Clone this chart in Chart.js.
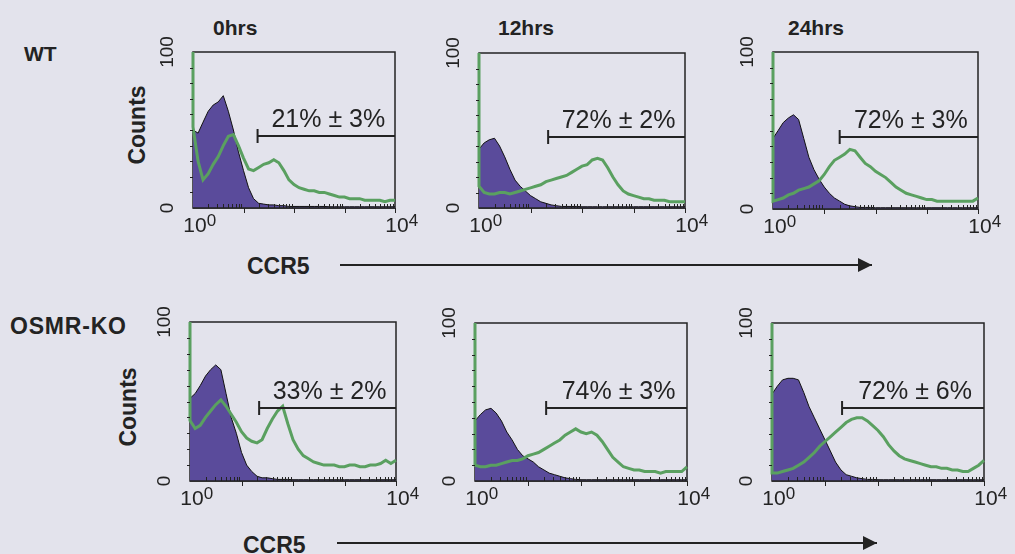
<!DOCTYPE html>
<html>
<head>
<meta charset="utf-8">
<script src="https://cdn.jsdelivr.net/npm/chart.js@4.4.1/dist/chart.umd.min.js"></script>
<style>
html, body { margin: 0; background: #e3e3ec; }
body { width: 1015px; height: 554px; overflow: hidden; position: relative;
  font-family: "Liberation Sans", Arial, sans-serif; color: #232323; }
.t { position: absolute; font-weight: bold; line-height: 1; white-space: nowrap; }
.rot { width: 100px; text-align: center; transform: rotate(-90deg); }
canvas { position: absolute; }
.arrow { position: absolute; height: 2px; background: #232323; }
.arrow:after { content: ''; position: absolute; right: 0; top: -6px;
  border-left: 14px solid #232323; border-top: 7px solid transparent; border-bottom: 7px solid transparent; }
</style>
</head>
<body>
<div class="t" style="left:24px;top:43px;font-size:21px">WT</div>
<div class="t" style="left:10px;top:315px;font-size:23px;letter-spacing:0.8px">OSMR-KO</div>
<div class="t" style="left:213px;top:17px;font-size:21px">0hrs</div>
<div class="t" style="left:498px;top:17px;font-size:21px">12hrs</div>
<div class="t" style="left:788px;top:17px;font-size:21px">24hrs</div>
<div class="t rot" style="left:87px;top:113px;font-size:23px;line-height:24px">Counts</div>
<div class="t rot" style="left:78px;top:395px;font-size:23px;line-height:24px">Counts</div>
<div class="t" style="left:247px;top:255px;font-size:23px">CCR5</div>
<div class="t" style="left:243px;top:534px;font-size:23px">CCR5</div>
<div class="arrow" style="left:340px;top:264px;width:532px"></div>
<div class="arrow" style="left:337px;top:542px;width:540px"></div>

<script>
// CCR5 fluorescence channels, 0.1 decade apart (10^0 .. 10^4)
var channels = [1, 1.26, 1.58, 2, 2.51, 3.16, 3.98, 5.01, 6.31, 7.94,
  10, 12.6, 15.8, 20, 25.1, 31.6, 39.8, 50.1, 63.1, 79.4,
  100, 126, 158, 200, 251, 316, 398, 501, 631, 794,
  1000, 1259, 1585, 1995, 2512, 3162, 3981, 5012, 6310, 7943, 10000];

// purple filled histograms (control)
var wt0Ctrl = [50, 48, 55, 62, 66, 68, 72, 62, 50, 36, 24, 13, 6, 3, 2.5, 2, 2, 1.5, 1.5, 1,
  1, 1, 1, 1, 1, 1, 1, 0.8, 0.8, 0.8, 0.8, 0.8, 0.8, 0.8, 0.8, 0.8, 0.8, 0.8, 0.8, 0.8, 0.8];
var wt12Ctrl = [38, 42, 44, 45, 40, 33, 25, 18, 14, 11, 8, 6, 4, 3, 2, 1.5, 1, 1, 1, 1,
  0.8, 0.8, 0.8, 0.8, 0.8, 0.8, 0.8, 0.8, 0.8, 0.8, 0.8, 0.8, 0.8, 0.8, 0.8, 0.8, 0.8, 0.8, 0.8, 0.8, 0.8];
var wt24Ctrl = [45, 50, 55, 58, 60, 57, 45, 33, 25, 19, 14, 10, 7, 5, 3, 2, 1.5, 1, 1, 1,
  0.8, 0.8, 0.8, 0.8, 0.8, 0.8, 0.8, 0.8, 0.8, 0.8, 0.8, 0.8, 0.8, 0.8, 0.8, 0.8, 0.8, 0.8, 0.8, 0.8, 0.8];
var ko0Ctrl = [52, 55, 60, 66, 70, 73, 70, 55, 40, 30, 18, 10, 6, 3, 2, 2, 1.5, 1, 1, 1,
  0.8, 0.8, 0.8, 0.8, 0.8, 0.8, 0.8, 0.8, 0.8, 0.8, 0.8, 0.8, 0.8, 0.8, 0.8, 0.8, 0.8, 0.8, 0.8, 0.8, 0.8];
var ko12Ctrl = [38, 42, 45, 46, 43, 38, 31, 26, 20, 16, 14, 12, 9, 7, 5, 4, 3, 2, 1.5, 1,
  0.8, 0.8, 0.8, 0.8, 0.8, 0.8, 0.8, 0.8, 0.8, 0.8, 0.8, 0.8, 0.8, 0.8, 0.8, 0.8, 0.8, 0.8, 0.8, 0.8, 0.8];
var ko24Ctrl = [55, 60, 64, 65, 65, 64, 56, 47, 40, 33, 26, 19, 12, 7, 4, 3, 2, 1.5, 1, 1,
  0.8, 0.8, 0.8, 0.8, 0.8, 0.8, 0.8, 0.8, 0.8, 0.8, 0.8, 0.8, 0.8, 0.8, 0.8, 0.8, 0.8, 0.8, 0.8, 0.8, 0.8];

// green outlines (CCR5 stain)
var wt0Ccr5 = [52, 30, 18, 22, 28, 33, 40, 46, 47, 40, 32, 25, 24, 26, 28, 29, 31, 29, 24, 18,
  15, 13, 12, 11, 11, 10, 10, 9, 8, 7, 7, 6, 6, 6, 5, 5, 5, 5, 4, 5, 5];
var wt12Ccr5 = [14, 10, 9, 9, 10, 10, 9, 10, 11, 12, 13, 14, 15, 17, 18, 19, 20, 21, 23, 25,
  27, 28, 31, 32, 31, 26, 20, 15, 11, 9, 8, 7, 6, 6, 5, 5, 5, 4, 4, 4, 4];
var wt24Ccr5 = [5, 6, 7, 9, 10, 12, 13, 14, 16, 18, 22, 27, 31, 33, 35, 38, 37, 33, 29, 27,
  24, 22, 20, 17, 14, 12, 10, 9, 8, 7, 6, 6, 5, 5, 5, 5, 5, 5, 5, 5, 7];
var ko0Ccr5 = [38, 33, 35, 40, 44, 48, 51, 47, 42, 37, 31, 27, 25, 24, 26, 33, 39, 44, 47, 36,
  26, 20, 16, 14, 12, 11, 10, 10, 10, 9, 9, 10, 10, 9, 9, 10, 10, 11, 13, 11, 13];
var ko12Ccr5 = [10, 9, 9, 10, 10, 11, 12, 13, 13, 14, 16, 17, 18, 20, 22, 24, 26, 29, 31, 33,
  31, 30, 31, 29, 25, 20, 15, 12, 9, 8, 7, 7, 6, 6, 6, 5, 6, 6, 6, 6, 9];
var ko24Ccr5 = [5, 5, 6, 7, 8, 10, 12, 15, 18, 22, 25, 28, 31, 34, 37, 39, 40, 40, 38, 35,
  32, 28, 23, 19, 16, 14, 13, 12, 11, 10, 9, 9, 8, 8, 7, 7, 6, 6, 8, 10, 13];

// spike of events piled up in the first channel
var edgeSpikes = [100, 100, 100, 100, 100, 100];

// CCR5+ gate: start channel, height, label
var gateStarts = [19, 22, 20, 22, 22, 21];
var gateLevel = 46;
var gateLabels = ['21% \u00b1 3%', '72% \u00b1 2%', '72% \u00b1 3%', '33% \u00b1 2%', '74% \u00b1 3%', '72% \u00b1 6%'];

var yTicks = [0, 100];
var xTicks = [{ v: 1, exp: '0' }, { v: 10000, exp: '4' }];

var purple = '#5a4b9b', green = '#5aa060', ink = '#232323';
var FONT = '"Liberation Sans", Arial, sans-serif';

// plot boxes [left, top, width, height]
var panels = [
  { box: [193, 52, 202, 156], ctrl: wt0Ctrl, stain: wt0Ccr5 },
  { box: [479, 53, 206, 155], ctrl: wt12Ctrl, stain: wt12Ccr5 },
  { box: [773, 52, 205, 157], ctrl: wt24Ctrl, stain: wt24Ccr5 },
  { box: [190, 322, 206, 159], ctrl: ko0Ctrl, stain: ko0Ccr5 },
  { box: [475, 323, 212, 158], ctrl: ko12Ctrl, stain: ko12Ccr5 },
  { box: [772, 323, 212, 158], ctrl: ko24Ctrl, stain: ko24Ccr5 }
];
var PAD = { left: 45, right: 30, top: 20, bottom: 32 };

function toPoints(values) {
  return values.map(function (v, i) { return { x: channels[i], y: v }; });
}

var panelDeco = {
  id: 'panelDeco',
  beforeDatasetsDraw: function (chart) {
    var ctx = chart.ctx, a = chart.chartArea;
    ctx.save();
    ctx.strokeStyle = ink;
    ctx.lineWidth = 1.5;
    ctx.strokeRect(a.left, a.top, a.right - a.left, a.bottom - a.top);
    ctx.restore();
  },
  afterDatasetsDraw: function (chart, args, opts) {
    var ctx = chart.ctx, a = chart.chartArea, x = chart.scales.x, y = chart.scales.y;
    ctx.save();
    ctx.strokeStyle = ink;
    ctx.fillStyle = ink;

    // log tick marks on the bottom axis
    ctx.lineWidth = 1;
    ctx.beginPath();
    for (var k = 0; k < 4; k++) {
      for (var m = 2; m <= 10; m++) {
        var px = Math.round(x.getPixelForValue(m * Math.pow(10, k))) + 0.5;
        if (m === 10) {
          ctx.moveTo(px, a.bottom); ctx.lineTo(px, a.bottom + 5);
        } else {
          ctx.moveTo(px, a.bottom); ctx.lineTo(px, a.bottom - 4);
        }
      }
    }
    // small ticks on the left axis
    for (var c = 10; c < 100; c += 10) {
      var py = Math.round(y.getPixelForValue(c)) + 0.5;
      ctx.moveTo(a.left, py); ctx.lineTo(a.left - 3, py);
    }
    ctx.stroke();
    ctx.lineWidth = 1.5;
    ctx.beginPath();
    ctx.moveTo(a.left, a.bottom); ctx.lineTo(a.right, a.bottom);
    ctx.stroke();

    // y tick labels, rotated
    ctx.font = '19px ' + FONT;
    ctx.textAlign = 'center';
    ctx.textBaseline = 'middle';
    yTicks.forEach(function (v) {
      ctx.save();
      ctx.translate(a.left - 25, y.getPixelForValue(v));
      ctx.rotate(-Math.PI / 2);
      ctx.fillText(String(v), 0, 0);
      ctx.restore();
    });

    // x tick labels 10^n
    ctx.textBaseline = 'alphabetic';
    xTicks.forEach(function (t) {
      var cx = x.getPixelForValue(t.v) + 2;
      ctx.font = '21px ' + FONT;
      ctx.textAlign = 'center';
      ctx.fillText('10', cx, a.bottom + 24);
      var w = ctx.measureText('10').width;
      ctx.font = '17px ' + FONT;
      ctx.textAlign = 'left';
      ctx.fillText(t.exp, cx + w / 2, a.bottom + 18);
    });

    // gate
    var gx = x.getPixelForValue(opts.gateFrom);
    var gy = Math.round(y.getPixelForValue(gateLevel));
    ctx.lineWidth = 2;
    ctx.beginPath();
    ctx.moveTo(gx, gy); ctx.lineTo(a.right, gy);
    ctx.moveTo(gx, gy - 7); ctx.lineTo(gx, gy + 7);
    ctx.stroke();
    ctx.font = '25px ' + FONT;
    ctx.textAlign = 'center';
    ctx.fillText(opts.label, (gx + a.right) / 2 + 2, gy - 9);
    ctx.restore();
  }
};

panels.forEach(function (p, i) {
  var cv = document.createElement('canvas');
  cv.width = p.box[2] + PAD.left + PAD.right;
  cv.height = p.box[3] + PAD.top + PAD.bottom;
  cv.style.left = (p.box[0] - PAD.left) + 'px';
  cv.style.top = (p.box[1] - PAD.top) + 'px';
  document.body.appendChild(cv);

  new Chart(cv, {
    type: 'line',
    data: {
      datasets: [{
        data: [{ x: 1, y: edgeSpikes[i] }].concat(toPoints(p.stain)),
        borderColor: green,
        borderWidth: 3,
        pointRadius: 0,
        fill: false,
        clip: 2
      },
      {
        data: toPoints(p.ctrl),
        borderColor: '#111',
        borderWidth: 1,
        backgroundColor: purple,
        pointRadius: 0,
        fill: 'origin'
      }]
    },
    options: {
      responsive: false,
      animation: false,
      events: [],
      layout: { padding: PAD },
      elements: { line: { tension: 0 } },
      plugins: {
        legend: { display: false },
        tooltip: { enabled: false },
        panelDeco: { gateFrom: gateStarts[i], label: gateLabels[i] }
      },
      scales: {
        x: { type: 'logarithmic', min: 1, max: 10000, display: false },
        y: { min: 0, max: 100, display: false }
      }
    },
    plugins: [panelDeco]
  });
});
</script>
</body>
</html>
